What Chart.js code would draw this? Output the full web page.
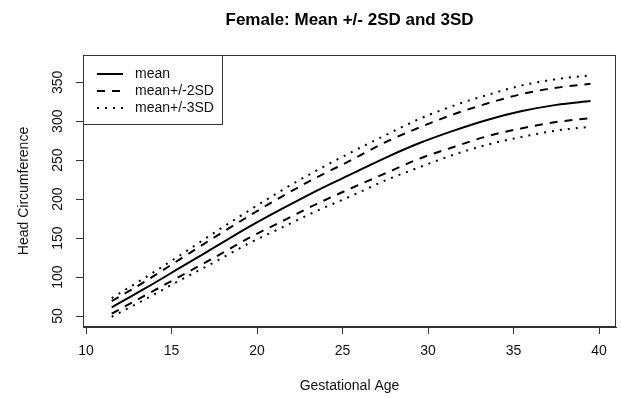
<!DOCTYPE html>
<html>
<head>
<meta charset="utf-8">
<script src="https://cdn.jsdelivr.net/npm/chart.js@4/dist/chart.umd.min.js"></script>
<style>
  body { margin: 0; background: #fff; }
  canvas { display: block; }
</style>
</head>
<body>
<canvas id="hcChart" width="621" height="398"></canvas>
<script>
// gestational age (weeks) and head circumference curves
var weeks = [11.5, 13.5, 15.5, 17.5, 19.5, 21.5, 23.5, 25.5, 27.5, 29.5, 31.5, 33.5, 35.5, 37.5, 39.5];
var meanHC = [61, 86, 112, 138, 164, 188, 211, 232, 253, 272, 288, 302, 313, 321, 326];
var plus2SD = [69, 95, 123, 151, 178, 204, 228, 250, 273, 292, 309, 323, 335, 343, 348];
var minus2SD = [53, 77, 101, 125, 150, 172, 194, 214, 233, 252, 267, 281, 291, 299, 304];
var plus3SD = [73, 100, 128, 157, 185, 212, 237, 260, 282, 303, 320, 334, 346, 354, 359];
var minus3SD = [49, 72, 96, 119, 143, 164, 185, 204, 224, 241, 257, 270, 280, 288, 293];

var xTicks = [10, 15, 20, 25, 30, 35, 40];
var yTicks = [50, 100, 150, 200, 250, 300, 350];

var legendLabels = ['mean', 'mean+/-2SD', 'mean+/-3SD'];
var dashStyles = [[], [8, 7], [2, 6]];

function pts(ys) {
    return weeks.map(function(w, i) { return { x: w, y: ys[i] }; });
}

function lineSet(label, ys, dash) {
    return {
        label: label,
        data: pts(ys),
        borderColor: '#000',
        borderWidth: 2,
        borderDash: dash,
        pointRadius: 0,
        fill: false,
        cubicInterpolationMode: 'monotone'
    };
}

// box around the plot region and the boxed legend, like base R
var rBox = {
    id: 'rBox',
    afterDraw: function(chart) {
        var ctx = chart.ctx;
        var a = chart.chartArea;
        ctx.save();
        ctx.strokeStyle = '#333';
        ctx.lineWidth = 1;
        ctx.strokeRect(Math.round(a.left) + 0.5, Math.round(a.top) + 0.5,
            Math.round(a.right - a.left) - 1, Math.round(a.bottom - a.top) - 1);

        var lx = Math.round(a.left), ly = Math.round(a.top);
        ctx.fillStyle = '#fff';
        ctx.fillRect(lx + 1, ly + 1, 138, 68);
        ctx.strokeRect(lx + 0.5, ly + 0.5, 139, 69);

        ctx.font = '14px "Liberation Sans", Arial, sans-serif';
        ctx.textBaseline = 'middle';
        ctx.fillStyle = '#111';
        legendLabels.forEach(function(txt, i) {
            var y = ly + 19 + i * 17;
            ctx.beginPath();
            ctx.strokeStyle = '#000';
            ctx.lineWidth = 2;
            ctx.setLineDash(dashStyles[i]);
            ctx.moveTo(lx + 14, y);
            ctx.lineTo(lx + 40, y);
            ctx.stroke();
            ctx.setLineDash([]);
            ctx.fillText(txt, lx + 52, y);
        });
        ctx.restore();
    }
};

Chart.defaults.font.family = '"Liberation Sans", Arial, sans-serif';
Chart.defaults.color = '#111';

var ctx = document.getElementById('hcChart').getContext('2d');
var hcChart = new Chart(ctx, {
    type: 'line',
    data: {
        datasets: [
            lineSet('mean', meanHC, dashStyles[0]),
            lineSet('mean+/-2SD', plus2SD, dashStyles[1]),
            lineSet('mean+/-2SD', minus2SD, dashStyles[1]),
            lineSet('mean+/-3SD', plus3SD, dashStyles[2]),
            lineSet('mean+/-3SD', minus3SD, dashStyles[2])
        ]
    },
    options: {
        responsive: false,
        animation: false,
        devicePixelRatio: 1,
        layout: { padding: { left: 0, right: 5, top: 0, bottom: 0 } },
        plugins: {
            legend: { display: false },
            tooltip: { enabled: false },
            title: {
                display: true,
                text: 'Female: Mean +/- 2SD and 3SD',
                fullSize: false,
                color: '#000',
                font: { size: 17, weight: 'bold' },
                padding: { top: 10, bottom: 24.6 }
            }
        },
        scales: {
            x: {
                type: 'linear',
                min: 9.82,
                max: 40.99,
                afterBuildTicks: function(s) {
                    s.ticks = xTicks.map(function(v) { return { value: v }; });
                },
                afterFit: function(s) { s.height = 71; },
                ticks: { font: { size: 14 }, color: '#111', padding: 9, maxRotation: 0 },
                grid: { drawOnChartArea: false, drawTicks: true, tickLength: 7, color: '#333' },
                border: { color: '#333' },
                title: { display: true, text: 'Gestational Age', font: { size: 14 }, color: '#111', padding: { top: 0, bottom: 3 } }
            },
            y: {
                type: 'linear',
                min: 35.9,
                max: 385,
                afterBuildTicks: function(s) {
                    s.ticks = yTicks.map(function(v) { return { value: v }; });
                },
                afterFit: function(s) { s.width = 83; },
                ticks: { font: { size: 14 }, color: '#111', padding: 6, minRotation: 90, maxRotation: 90, crossAlign: 'center' },
                grid: { drawOnChartArea: false, drawTicks: true, tickLength: 7, color: '#333' },
                border: { color: '#333' },
                title: { display: true, text: 'Head Circumference', font: { size: 14 }, color: '#111', padding: { top: 16, bottom: 0 } }
            }
        }
    },
    plugins: [rBox]
});
</script>
</body>
</html>
